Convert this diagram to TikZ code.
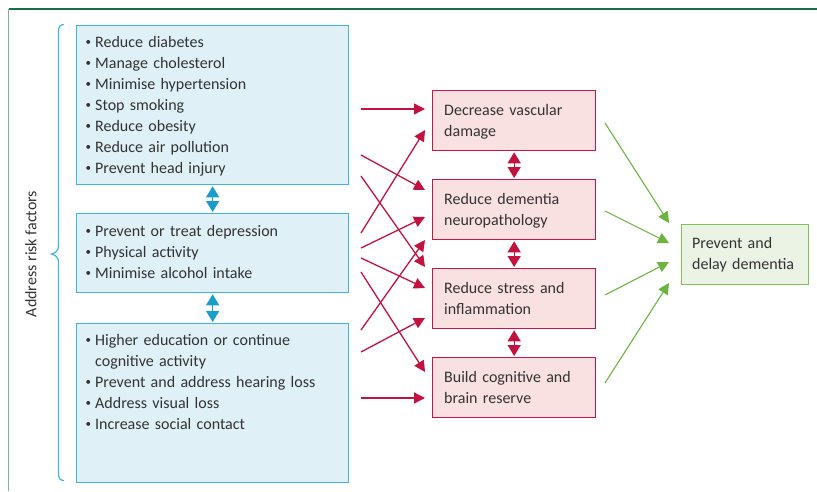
\documentclass[tikz,border=0pt]{standalone}
\usepackage{fontspec}
\setmainfont{Carlito}
\usetikzlibrary{arrows.meta,calc}
\definecolor{bfill}{HTML}{DFF0F7}
\definecolor{bline}{HTML}{40B4DA}
\definecolor{barr}{HTML}{1A9DC9}
\definecolor{rfill}{HTML}{F8E1E0}
\definecolor{rline}{HTML}{C4164A}
\definecolor{rarr}{HTML}{C2123F}
\definecolor{gfill}{HTML}{EBF3E4}
\definecolor{gline}{HTML}{7DC257}
\definecolor{garr}{HTML}{6CB33F}
\definecolor{ftop}{HTML}{1E6B47}
\definecolor{fleft}{HTML}{79B597}
\definecolor{txt}{HTML}{333333}
\newcommand{\bl}{\makebox[10pt][l]{\hspace*{0.3pt}\raisebox{1.6pt}{\fontsize{11}{11}\selectfont\textbullet}}}
\begin{document}
\begin{tikzpicture}[x=1pt,y=-1pt,
  bbox/.style={draw=bline, fill=bfill, line width=1.3pt, minimum width=272pt, anchor=north west, inner sep=0pt},
  rbox/.style={draw=rline, fill=rfill, line width=1.3pt, minimum width=163pt, minimum height=60pt, anchor=north west, inner sep=0pt},
  gbox/.style={draw=gline, fill=gfill, line width=1.3pt, minimum width=127pt, minimum height=60pt, anchor=north west, inner sep=0pt},
  txtnode/.style={font=\fontsize{16}{21}\selectfont, text=txt, anchor=base west, inner sep=0pt, text width=260pt, align=left},
  rarrow/.style={draw=rarr, line width=1.3pt, -{Triangle[length=11pt,width=11pt]}},
  rdarrow/.style={draw=rarr, line width=1.3pt, {Triangle[length=11pt,width=13pt]}-{Triangle[length=11pt,width=13pt]}, shorten <=1pt, shorten >=1pt},
  bdarrow/.style={draw=barr, line width=1.3pt, {Triangle[length=11pt,width=13pt]}-{Triangle[length=11pt,width=13pt]}, shorten <=1pt, shorten >=1pt},
  garrow/.style={draw=garr, line width=1.1pt, -{Triangle[length=11pt,width=11pt]}},
  bracestyle/.style={draw=bline, line width=1.2pt}
]
\useasboundingbox (0,0) rectangle (817,491);
% frame
\draw[ftop, line width=1.2pt] (8.5,9) -- (817,9);
\draw[fleft, line width=1.2pt] (8.5,9) -- (8.5,491);
% brace
\draw[bracestyle] (64,24.5) .. controls (60,24.5) and (58.5,27) .. (58.5,31) -- (58.5,246) .. controls (58.5,251) and (55,253) .. (51.5,254) .. controls (55,255) and (58.5,257) .. (58.5,262) -- (58.5,474) .. controls (58.5,478) and (60,480.5) .. (64,480.5);
\node[rotate=90, font=\fontsize{16}{21}\selectfont, text=txt, inner sep=0pt] (lbl) at (31,254) {Address risk factors};
% blue boxes
\node[bbox, minimum height=159pt] (b1) at (76,25) {};
\node[bbox, minimum height=79pt] (b2) at (76,213) {};
\node[bbox, minimum height=159pt] (b3) at (76,323) {};
\node[txtnode] (t1) at (85,47.5) {\bl Reduce diabetes\\\bl Manage cholesterol\\\bl Minimise hypertension\\\bl Stop smoking\\\bl Reduce obesity\\\bl Reduce air pollution\\\bl Prevent head injury};
\node[txtnode] (t2) at (85,236) {\bl Prevent or treat depression\\\bl Physical activity\\\bl Minimise alcohol intake};
\node[txtnode] (t3) at (85,345.5) {\bl Higher education or continue\\\hspace*{10pt}cognitive activity\\\bl Prevent and address hearing loss\\\bl Address visual loss\\\bl Increase social contact};
\draw[bdarrow] (b1.south) -- (b2.north);
\draw[bdarrow] (b2.south) -- (b3.north);
% red boxes
\node[rbox] (r1) at (432,90) {};
\node[rbox] (r2) at (432,179) {};
\node[rbox] (r3) at (432,268) {};
\node[rbox] (r4) at (432,357) {};
\node[txtnode, text width=150pt] (rt1) at (444,115.5) {Decrease vascular\\damage};
\node[txtnode, text width=150pt] (rt2) at (444,204.5) {Reduce dementia\\neuropathology};
\node[txtnode, text width=150pt] (rt3) at (444,293.5) {Reduce stress and\\inflammation};
\node[txtnode, text width=150pt] (rt4) at (444,382.5) {Build cognitive and\\brain reserve};
\draw[rdarrow] (r1.south) -- (r2.north);
\draw[rdarrow] (r2.south) -- (r3.north);
\draw[rdarrow] (r3.south) -- (r4.north);
% green box
\node[gbox] (g) at (681,224) {};
\node[txtnode, text width=120pt] (gt) at (692,248.5) {Prevent and\\delay dementia};
% red arrow endpoints
\coordinate (s1) at (361,109);  \coordinate (e1) at (425,109);
\coordinate (s2) at (361,155);  \coordinate (e2) at (425,190);
\coordinate (s3) at (361,176);  \coordinate (e3) at (425,267);
\coordinate (s4) at (361,233);  \coordinate (e4) at (425,130);
\coordinate (s5) at (361,248);  \coordinate (e5) at (425,217);
\coordinate (s6) at (361,258);  \coordinate (e6) at (425,288);
\coordinate (s7) at (361,272);  \coordinate (e7) at (425,372);
\coordinate (s8) at (361,330);  \coordinate (e8) at (425,240);
\coordinate (s9) at (361,352);  \coordinate (e9) at (425,318);
\coordinate (s10) at (361,398); \coordinate (e10) at (425,398);
\foreach \i in {1,...,10} {\draw[rarrow] (s\i) -- (e\i);}
% green arrows
\coordinate (gs1) at (605,123); \coordinate (ge1) at (669,223);
\coordinate (gs2) at (605,211); \coordinate (ge2) at (669,243);
\coordinate (gs3) at (605,295); \coordinate (ge3) at (669,262);
\coordinate (gs4) at (605,383); \coordinate (ge4) at (669,283);
\foreach \i in {1,...,4} {\draw[garrow] (gs\i) -- (ge\i);}
\end{tikzpicture}
\end{document}
